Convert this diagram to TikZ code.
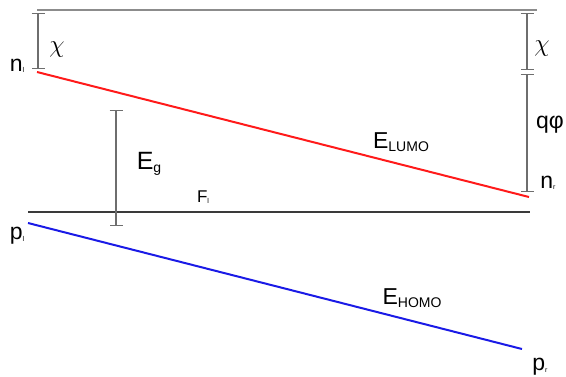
\documentclass[tikz,border=0pt]{standalone}
\usepackage{fontspec}
\setmainfont{Liberation Sans}
\usetikzlibrary{arrows.meta}
\definecolor{vac}{HTML}{8C8C8C}
\definecolor{barc}{HTML}{6E6E6E}
\definecolor{fermi}{HTML}{3A3A3A}
\definecolor{lumo}{HTML}{FF1A1A}
\definecolor{homo}{HTML}{1A1AE6}
\newcommand\bandsub[1]{\raisebox{-0.25ex}{\fontsize{14}{14}\selectfont #1}}
\newcommand\tinysub[1]{\raisebox{-0.1ex}{\fontsize{7}{7}\selectfont #1}}

\begin{document}
\begin{tikzpicture}[x=1pt,y=-1pt,
  lbl/.style={font=\fontsize{23}{26}\selectfont,inner sep=0pt},
  chi/.style={font=\fontsize{30}{30}\selectfont,inner sep=0pt},
  gap/.style={draw=barc,line width=1.3pt,{Bar[width=13pt]}-{Bar[width=13pt]}}]
 \useasboundingbox (0,0) rectangle (566,376);
 % levels
 \coordinate (vl) at (37,10);\coordinate (vr) at (537,10);
 \coordinate (nl) at (37,72);\coordinate (nr) at (529,197);
 \coordinate (fl) at (28,212);\coordinate (fr) at (530,212);
 \coordinate (pl) at (28,223);\coordinate (pr) at (522,349);
 \draw[vac,line width=1.3pt](vl)--(vr);
 \draw[fermi,line width=1.1pt](fl)--(fr);
 \draw[lumo,line width=2pt](nl)--(nr);
 \draw[homo,line width=2pt](pl)--(pr);
 % bars
 \foreach \n/\x/\a/\b in {chil/38/13/69,chir/527/13/70,phi/527/74/192,eg/116/110/226}{
  \coordinate (\n a) at (\x,\a);\coordinate (\n b) at (\x,\b);
  \draw[gap](\n a)--(\n b);}
 % labels
 \node[lbl](nlab) at (17,66){n\tinysub{l}};
 \node[chi](chila) at (57,50){$\chi$};
 \node[chi](chira) at (542,49){$\chi$};
 \node[lbl](phila) at (550,125){qφ};
 \node[lbl](nrlab) at (548,183){n\tinysub{r}};
 \node[lbl,font=\fontsize{25}{28}\selectfont](eglab) at (149,164){E\bandsub{g}};
 \node[lbl,font=\fontsize{17}{20}\selectfont](fllab) at (203,197){F\tinysub{l}};
 \node[lbl](lumolab) at (401,142){E\bandsub{LUMO}};
 \node[lbl](pllab) at (17,236){p\tinysub{l}};
 \node[lbl](homolab) at (412,298){E\bandsub{HOMO}};
 \node[lbl](prlab) at (540,367){p\tinysub{r}};
\end{tikzpicture}
\end{document}
